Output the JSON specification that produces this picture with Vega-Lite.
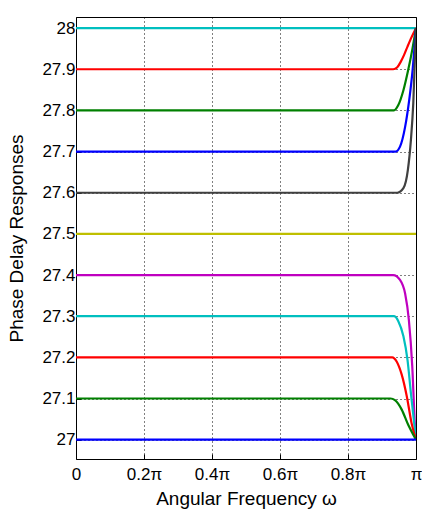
{
  "$schema": "https://vega.github.io/schema/vega-lite/v6.json",
  "autosize": "none",
  "width": 340,
  "height": 442,
  "padding": {"left": 76, "top": 17, "right": 6, "bottom": 50},
  "background": "white",
  "config": {
    "view": {"stroke": "black", "strokeWidth": 1},
    "font": "Liberation Sans"
  },
  "data": {"values": [
    {"s": "a28", "x": 0, "y": 28}, {"s": "a28", "x": 1, "y": 28},
    {"s": "b279", "x": 0, "y": 27.9}, {"s": "b279", "x": 0.933, "y": 27.9}, {"s": "b279", "x": 0.945, "y": 27.905}, {"s": "b279", "x": 0.955, "y": 27.918}, {"s": "b279", "x": 0.965, "y": 27.935}, {"s": "b279", "x": 0.975, "y": 27.955}, {"s": "b279", "x": 0.987, "y": 27.978}, {"s": "b279", "x": 1, "y": 28},
    {"s": "c278", "x": 0, "y": 27.8}, {"s": "c278", "x": 0.935, "y": 27.8}, {"s": "c278", "x": 0.948, "y": 27.813}, {"s": "c278", "x": 0.963, "y": 27.849}, {"s": "c278", "x": 0.977, "y": 27.898}, {"s": "c278", "x": 0.989, "y": 27.947}, {"s": "c278", "x": 1, "y": 28},
    {"s": "d277", "x": 0, "y": 27.7}, {"s": "d277", "x": 0.94, "y": 27.7}, {"s": "d277", "x": 0.953, "y": 27.712}, {"s": "d277", "x": 0.968, "y": 27.76}, {"s": "d277", "x": 0.98, "y": 27.825}, {"s": "d277", "x": 0.99, "y": 27.898}, {"s": "d277", "x": 1, "y": 28},
    {"s": "e276", "x": 0, "y": 27.6}, {"s": "e276", "x": 0.945, "y": 27.6}, {"s": "e276", "x": 0.963, "y": 27.611}, {"s": "e276", "x": 0.976, "y": 27.655}, {"s": "e276", "x": 0.985, "y": 27.728}, {"s": "e276", "x": 0.992, "y": 27.817}, {"s": "e276", "x": 1, "y": 28},
    {"s": "f275", "x": 0, "y": 27.5}, {"s": "f275", "x": 1, "y": 27.5},
    {"s": "g274", "x": 0, "y": 27.4}, {"s": "g274", "x": 0.933, "y": 27.4}, {"s": "g274", "x": 0.953, "y": 27.388}, {"s": "g274", "x": 0.968, "y": 27.355}, {"s": "g274", "x": 0.979, "y": 27.291}, {"s": "g274", "x": 0.989, "y": 27.178}, {"s": "g274", "x": 0.996, "y": 27.049}, {"s": "g274", "x": 1, "y": 27},
    {"s": "h273", "x": 0, "y": 27.3}, {"s": "h273", "x": 0.935, "y": 27.3}, {"s": "h273", "x": 0.948, "y": 27.288}, {"s": "h273", "x": 0.963, "y": 27.251}, {"s": "h273", "x": 0.975, "y": 27.194}, {"s": "h273", "x": 0.985, "y": 27.113}, {"s": "h273", "x": 1, "y": 27},
    {"s": "i272", "x": 0, "y": 27.2}, {"s": "i272", "x": 0.93, "y": 27.2}, {"s": "i272", "x": 0.943, "y": 27.19}, {"s": "i272", "x": 0.958, "y": 27.158}, {"s": "i272", "x": 0.973, "y": 27.105}, {"s": "i272", "x": 0.987, "y": 27.04}, {"s": "i272", "x": 1, "y": 27},
    {"s": "j271", "x": 0, "y": 27.1}, {"s": "j271", "x": 0.925, "y": 27.1}, {"s": "j271", "x": 0.938, "y": 27.096}, {"s": "j271", "x": 0.958, "y": 27.073}, {"s": "j271", "x": 0.977, "y": 27.036}, {"s": "j271", "x": 0.992, "y": 27.012}, {"s": "j271", "x": 1, "y": 27},
    {"s": "k270", "x": 0, "y": 27}, {"s": "k270", "x": 1, "y": 27}
  ]},
  "layer": [
    {
      "mark": {"type": "line", "strokeWidth": 2.2, "interpolate": "monotone", "clip": true},
      "encoding": {
        "x": {"field": "x", "type": "quantitative",
          "scale": {"domain": [0, 1], "nice": false, "zero": false},
          "axis": {"values": [0, 0.2, 0.4, 0.6, 0.8, 1],
            "labelExpr": "datum.value == 0 ? '0' : (datum.value == 1 ? 'π' : format(datum.value, '.1f') + 'π')",
            "title": "Angular Frequency ω",
            "titleFont": "Liberation Sans", "titleFontSize": 19, "titleFontWeight": "normal", "titleColor": "black", "titlePadding": 7,
            "labelFont": "Liberation Sans", "labelFontSize": 17, "labelColor": "black", "labelPadding": 12,
            "domain": false, "ticks": true, "tickSize": -5, "tickColor": "black",
            "grid": true, "gridColor": "black", "gridDash": [1, 3], "gridOpacity": 1,
            "labelFlush": false}},
        "y": {"field": "y", "type": "quantitative",
          "scale": {"domain": [26.953, 28.027], "nice": false, "zero": false},
          "axis": {"values": [27, 27.1, 27.2, 27.3, 27.4, 27.5, 27.6, 27.7, 27.8, 27.9, 28],
            "labelExpr": "format(datum.value, '.1~f')",
            "title": "Phase Delay Responses",
            "titleFont": "Liberation Sans", "titleFontSize": 19, "titleFontWeight": "normal", "titleColor": "black", "titlePadding": 15,
            "labelFont": "Liberation Sans", "labelFontSize": 17, "labelColor": "black", "labelPadding": 6,
            "domain": false, "ticks": true, "tickSize": -5, "tickColor": "black",
            "grid": true, "gridColor": "black", "gridDash": [1, 3], "gridOpacity": 1}},
        "color": {"field": "s", "type": "nominal", "legend": null,
          "scale": {"domain": ["a28", "b279", "c278", "d277", "e276", "f275", "g274", "h273", "i272", "j271", "k270"],
            "range": ["#00bfbf", "#ff0000", "#008000", "#0000ff", "#404040", "#bfbf00", "#bf00bf", "#00bfbf", "#ff0000", "#008000", "#0000ff"]}}
      }
    }
  ]
}
